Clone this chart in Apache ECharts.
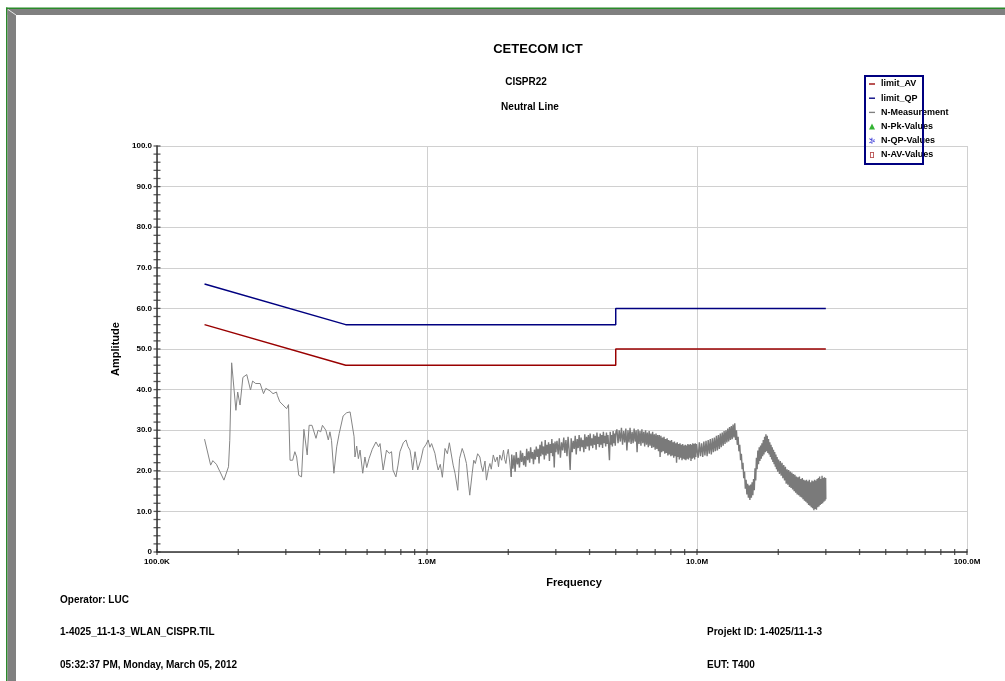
<!DOCTYPE html>
<html>
<head>
<meta charset="utf-8">
<script src="https://cdn.jsdelivr.net/npm/echarts@6/dist/echarts.min.js"></script>
<style>
html,body{margin:0;padding:0;background:#fff;}
#chart{width:1005px;height:681px;}
</style>
</head>
<body>
<div id="chart"></div>
<script>
// ---------- data (frequency in MHz, level in dBµV) ----------
const limitAV = [[0.15,56],[0.5,46],[5,46],[5,50],[30,50]];
const limitQP = [[0.15,66],[0.5,56],[5,56],[5,60],[30,60]];

// N-Measurement, low band (sparse part of the sweep)
const measLow = [
 [0.150,27.8],[0.158,21.4],[0.161,22.5],[0.166,21.6],[0.171,19.8],[0.177,17.7],[0.184,21.0],[0.186,27.5],
 [0.189,46.6],[0.191,46.8],[0.196,34.9],[0.199,39.4],[0.203,36.2],[0.208,43.0],[0.215,43.7],[0.218,43.3],
 [0.222,39.9],[0.226,42.1],[0.232,41.5],[0.241,41.5],[0.248,39.0],[0.253,40.3],[0.262,39.7],[0.269,39.0],
 [0.277,39.4],[0.279,38.6],[0.285,37.0],[0.293,36.2],[0.302,35.3],[0.307,36.3],[0.311,22.6],[0.318,22.6],
 [0.324,24.7],[0.329,23.4],[0.335,18.9],[0.343,18.5],[0.350,30.2],[0.354,30.4],[0.360,23.9],[0.366,31.2],
 [0.375,31.2],[0.388,28.0],[0.395,30.0],[0.404,29.6],[0.410,31.2],[0.422,30.0],[0.431,27.6],[0.437,29.6],
 [0.443,27.5],[0.452,19.4],[0.463,25.9],[0.473,29.2],[0.489,33.5],[0.504,34.3],[0.519,34.5],[0.526,34.2],
 [0.537,28.4],[0.541,23.4],[0.549,26.1],[0.557,23.0],[0.565,25.1],[0.578,19.4],[0.589,23.4],[0.598,20.8],
 [0.610,23.0],[0.627,25.3],[0.647,27.1],[0.662,25.9],[0.670,26.7],[0.688,20.2],[0.708,25.1],[0.724,24.3],
 [0.739,24.7],[0.748,20.2],[0.767,18.5],[0.781,21.4],[0.794,24.7],[0.817,26.9],[0.836,27.6],[0.850,26.0],
 [0.865,25.1],[0.875,23.0],[0.885,20.2],[0.903,24.7],[0.912,22.8],[0.924,20.2],[0.948,22.6],[0.969,25.5],
 [0.990,26.4],[1.01,27.6],[1.025,25.8],[1.04,26.7],[1.07,24.3],[1.085,22.0],[1.10,20.2],[1.12,21.6],
 [1.14,18.4],[1.166,25.5],[1.19,24.2],[1.21,26.9],[1.235,23.4],[1.25,21.4],[1.27,19.4],[1.30,15.2],
 [1.32,23.0],[1.35,25.5],[1.37,24.3],[1.40,21.8],[1.42,17.7],[1.44,14.0],[1.47,19.4],[1.49,22.6],
 [1.51,21.8],[1.54,24.2],[1.57,23.4],[1.59,21.2],[1.61,19.8],[1.64,22.4],[1.66,17.7],[1.69,20.6],
 [1.71,21.8],[1.73,20.4],[1.76,23.9],[1.79,22.2],[1.82,23.4],[1.84,21.0],[1.86,23.9],[1.89,22.6],
 [1.92,25.1],[1.94,22.8],[1.96,21.8],[1.98,24.0],[2.00,25.3],[2.03,21.4],[2.05,18.5]
];

// N-Measurement, 2 - 5 MHz (dense part of the sweep)
const measMid = [
 [2.05,18.5],
 [2.06,24.0],[2.08,20.5],[2.10,23.8],[2.12,19.8],[2.14,24.6],[2.16,21.6],[2.18,23.2],[2.20,20.8],
 [2.22,25.0],[2.24,22.2],[2.26,24.4],[2.28,21.4],[2.30,23.6],[2.32,21.0],[2.34,25.4],[2.36,22.6],
 [2.38,24.8],[2.40,22.0],[2.42,25.8],[2.44,23.0],[2.46,24.6],[2.48,21.6],[2.50,25.2],[2.52,22.8],
 [2.54,26.0],[2.56,23.4],[2.58,25.4],[2.60,21.8],[2.62,26.4],[2.64,23.6],[2.66,27.2],[2.68,24.0],
 [2.70,26.0],[2.72,22.8],[2.74,27.6],[2.76,23.8],[2.78,26.4],[2.80,24.2],[2.82,27.0],[2.84,22.4],
 [2.86,26.6],[2.88,24.4],[2.90,27.8],[2.92,23.6],[2.94,26.8],[2.96,20.8],[2.98,27.2],[3.00,24.6],
 [3.03,27.4],[3.06,24.0],[3.09,28.0],[3.12,23.2],[3.15,27.0],[3.18,25.0],[3.21,28.2],[3.24,24.4],
 [3.27,27.6],[3.30,23.6],[3.33,28.4],[3.36,25.2],[3.39,20.2],[3.42,28.0],[3.45,24.6],[3.48,27.4],
 [3.51,25.4],[3.54,28.6],[3.57,24.0],[3.60,27.8],[3.63,25.6],[3.66,28.8],[3.69,24.8],[3.72,28.2],
 [3.75,25.8],[3.78,27.6],[3.81,24.6],[3.84,29.0],[3.87,25.4],[3.90,28.4],[3.93,26.0],[3.96,28.8],
 [3.99,25.0],[4.02,29.2],[4.05,26.2],[4.08,28.0],[4.11,25.6],[4.14,29.0],[4.17,26.4],[4.20,28.6],
 [4.23,25.2],[4.26,29.4],[4.29,26.6],[4.32,28.4],[4.35,25.8],[4.38,29.2],[4.41,26.4],[4.44,28.8],
 [4.47,25.6],[4.50,29.6],[4.53,26.8],[4.56,28.6],[4.59,26.0],[4.62,29.4],[4.65,26.6],[4.68,28.8],
 [4.71,25.8],[4.74,22.6],[4.77,29.6],[4.80,26.4],[4.83,28.8],[4.86,26.0],[4.89,29.8],[4.92,26.8],
 [4.95,29.2],[4.98,26.2],[5.01,29.6]
];

// N-Measurement, 5 - 10 MHz
const measHigh1 = [
 [5.05,30.2],[5.10,26.8],[5.15,30.0],[5.20,27.2],[5.25,30.6],[5.30,26.4],[5.35,29.8],[5.40,27.0],
 [5.45,30.4],[5.50,25.0],[5.55,30.0],[5.60,27.0],[5.65,30.6],[5.70,26.6],[5.75,29.6],[5.80,26.8],
 [5.85,30.4],[5.90,27.2],[5.95,30.0],[6.00,24.6],[6.05,30.2],[6.10,26.6],[6.15,29.8],[6.20,26.2],
 [6.25,30.2],[6.30,26.8],[6.35,29.6],[6.40,26.0],[6.45,30.0],[6.50,26.4],[6.55,29.4],[6.60,25.8],
 [6.65,29.8],[6.70,26.2],[6.75,29.2],[6.80,25.6],[6.85,29.6],[6.90,25.8],[6.95,29.0],[7.00,25.2],
 [7.05,29.2],[7.10,25.4],[7.15,28.8],[7.20,24.8],[7.25,28.8],[7.30,23.4],[7.35,28.6],[7.40,24.6],
 [7.45,28.2],[7.50,24.8],[7.55,28.4],[7.60,24.2],[7.65,27.8],[7.70,24.4],[7.75,28.0],[7.80,23.8],
 [7.85,27.6],[7.90,24.0],[7.95,27.4],[8.00,23.6],[8.05,27.6],[8.10,23.8],[8.15,27.0],[8.20,23.2],
 [8.25,27.2],[8.30,23.6],[8.35,26.8],[8.40,22.0],[8.45,27.0],[8.50,23.4],[8.55,26.6],[8.60,22.8],
 [8.65,26.8],[8.70,23.2],[8.75,26.4],[8.80,22.6],[8.85,26.6],[8.90,23.0],[8.95,26.2],[9.00,22.8],
 [9.05,26.4],[9.10,22.6],[9.15,26.2],[9.20,23.0],[9.25,26.6],[9.30,22.8],[9.35,26.4],[9.40,23.2],
 [9.45,26.6],[9.50,22.4],[9.55,26.4],[9.60,23.0],[9.65,26.8],[9.70,23.2],[9.75,26.6],[9.80,22.8],
 [9.85,26.8],[9.90,23.4],[9.95,26.6]
];

// N-Measurement, 10 - 30 MHz
const measHigh2 = [
 [10.0,26.8],[10.1,23.2],[10.2,27.0],[10.3,23.6],[10.4,26.8],[10.5,23.4],[10.6,27.2],[10.7,23.8],
 [10.8,27.4],[10.9,23.6],[11.0,27.6],[11.1,24.2],[11.2,27.8],[11.3,24.0],[11.4,28.0],[11.5,24.6],
 [11.6,28.2],[11.7,24.8],[11.8,28.6],[11.9,25.0],[12.0,28.8],[12.1,25.4],[12.2,29.2],[12.3,25.8],
 [12.4,29.4],[12.5,26.2],[12.6,29.8],[12.7,26.6],[12.8,30.0],[12.9,27.0],[13.0,30.4],[13.1,27.2],
 [13.2,30.8],[13.3,27.6],[13.4,31.0],[13.5,27.8],[13.6,31.4],[13.7,28.2],[13.8,31.7],[13.9,27.6],
 [14.0,30.0],[14.1,26.4],[14.2,28.4],[14.3,24.8],[14.4,26.4],[14.5,22.6],[14.6,24.2],[14.7,20.4],
 [14.8,22.0],[14.9,18.2],[15.0,19.8],[15.1,15.6],[15.2,17.8],[15.3,14.2],[15.4,16.8],[15.5,13.4],
 [15.6,16.4],[15.7,12.8],[15.8,16.6],[15.9,13.4],[16.0,17.2],[16.1,14.0],[16.2,18.0],[16.3,15.2],
 [16.4,20.6],[16.5,17.6],[16.6,23.2],[16.7,20.4],[16.8,25.0],[16.9,21.6],[17.0,25.8],[17.1,22.4],
 [17.2,26.2],[17.3,23.0],[17.4,26.8],[17.5,23.6],[17.6,27.6],[17.7,24.0],[17.8,28.4],[17.9,24.6],
 [18.0,29.0],[18.1,24.8],[18.2,28.6],[18.3,24.4],[18.4,27.8],[18.5,24.0],[18.6,27.0],[18.7,23.4],
 [18.8,26.4],[18.9,22.8],[19.0,25.8],[19.1,22.2],[19.2,25.2],[19.3,21.6],[19.4,24.6],[19.5,21.0],
 [19.6,24.0],[19.7,20.4],[19.8,23.4],[19.9,19.8],
 [20.05,22.8],[20.20,19.2],[20.35,22.4],[20.50,18.8],[20.65,22.0],[20.80,18.2],[20.95,21.4],[21.10,17.6],
 [21.25,21.0],[21.40,16.8],[21.55,20.4],[21.70,16.6],[21.85,20.2],[22.00,16.0],[22.15,19.8],[22.30,15.8],
 [22.45,19.6],[22.60,15.4],[22.75,19.2],[22.90,15.0],[23.05,19.0],[23.20,14.6],[23.35,18.6],[23.50,14.2],
 [23.65,18.4],[23.80,14.0],[23.95,18.6],[24.10,13.6],[24.25,18.0],[24.40,13.4],[24.55,18.2],[24.70,13.0],
 [24.85,17.8],[25.00,12.6],[25.15,17.6],[25.30,12.4],[25.45,17.8],[25.60,12.0],[25.75,17.4],[25.90,11.6],
 [26.05,17.8],[26.20,11.4],[26.35,17.2],[26.50,11.0],[26.65,17.6],[26.80,10.8],[26.95,17.4],[27.10,10.3],
 [27.25,17.8],[27.40,10.6],[27.55,17.6],[27.70,10.4],[27.85,18.0],[28.00,11.0],[28.15,18.2],[28.30,11.2],
 [28.45,18.6],[28.60,11.6],[28.75,18.0],[28.90,11.8],[29.05,18.8],[29.20,12.0],[29.35,18.2],[29.50,12.4],
 [29.65,18.4],[29.80,12.6],[29.95,18.2],[30.00,13.0]
];

// tick positions (MHz) and labels
const xTickValues = [0.1,0.2,0.3,0.4,0.5,0.6,0.7,0.8,0.9,1,2,3,4,5,6,7,8,9,10,20,30,40,50,60,70,80,90,100];
const xTickLabels = {'100000':'100.0K','1000000':'1.0M','10000000':'10.0M','100000000':'100.0M'};
const yTickValues = [0,2,4,6,8,10,12,14,16,18,20,22,24,26,28,30,32,34,36,38,40,42,44,46,48,50,
  52,54,56,58,60,62,64,66,68,70,72,74,76,78,80,82,84,86,88,90,92,94,96,98,100];

// ---------- build ----------
const toHz = arr => arr.map(p => [p[0]*1e6, p[1]]);
const measSparse = toHz(measLow);
const measDense = toHz(measMid.concat(measHigh1, measHigh2));
const FONT = '"Liberation Sans", Arial, sans-serif';
const lineIcon = 'path://M0,0h8v1.8h-8z';
const asterisk = 'path://M3.4,0h1.2v8h-1.2z M0.3,1.6l0.6,-1l7,4.4l-0.6,1z M0.3,6.4l0.6,1l7,-4.4l-0.6,-1z';
const rectFrame = 'path://M0,0h5v8h-5zM1,1v6h3v-6z';

const chart = echarts.init(document.getElementById('chart'), null, {renderer:'canvas'});
chart.setOption({
  backgroundColor:'#fff',
  animation:false,
  title:[
    {text:'CETECOM ICT', left:533, top:38, textAlign:'center',
     textStyle:{fontFamily:FONT, fontWeight:'bold', fontSize:13, color:'#000'}},
    {text:'CISPR22', left:521, top:72, textAlign:'center',
     textStyle:{fontFamily:FONT, fontWeight:'bold', fontSize:10, color:'#000'}},
    {text:'Neutral Line', left:525, top:97, textAlign:'center',
     textStyle:{fontFamily:FONT, fontWeight:'bold', fontSize:10, color:'#000'}}
  ],
  legend:{
    data:[
      {name:'limit_AV', icon:lineIcon},{name:'limit_QP', icon:lineIcon},{name:'N-Measurement', icon:lineIcon},
      {name:'N-Pk-Values'},{name:'N-QP-Values'},{name:'N-AV-Values'}
    ],
    orient:'vertical', left:869, top:79.5,
    itemWidth:6, itemHeight:6, itemGap:5.2,
    selectedMode:false,
    textStyle:{fontFamily:FONT, fontWeight:'bold', fontSize:9, color:'#000', lineHeight:9, padding:[0,0,0,1]},
    padding:0
  },
  grid:{left:157, right:38, top:146, bottom:129, containLabel:false},
  xAxis:{
    type:'log', logBase:10, min:1e5, max:1e8,
    name:'Frequency', nameLocation:'middle', nameGap:25,
    nameTextStyle:{fontFamily:FONT, fontWeight:'bold', fontSize:11, color:'#000', padding:[0,0,0,24]},
    axisLine:{lineStyle:{color:'#333', width:1.5}},
    axisTick:{show:false},
    axisLabel:{margin:6, fontFamily:FONT, fontWeight:'bold', fontSize:8, color:'#000',
      formatter:v => xTickLabels[String(Math.round(v))] || ''},
    splitLine:{show:true, lineStyle:{color:'#d0d0d0', width:1}}
  },
  yAxis:{
    type:'value', min:0, max:100, interval:10,
    name:'Amplitude', nameLocation:'middle', nameGap:20, nameRotate:90,
    nameTextStyle:{fontFamily:FONT, fontWeight:'bold', fontSize:11, color:'#000'},
    axisLine:{show:true, lineStyle:{color:'#333', width:1.5}},
    axisTick:{show:false},
    axisLabel:{margin:5, fontFamily:FONT, fontWeight:'bold', fontSize:8, color:'#000',
      formatter:v => v === 0 ? '0' : v.toFixed(1)},
    splitLine:{show:true, lineStyle:{color:'#d0d0d0', width:1}}
  },
  series:[
    {name:'limit_AV', type:'line', data:toHz(limitAV), symbol:'none', color:'#990000',
     lineStyle:{color:'#990000', width:1.5}, z:4},
    {name:'limit_QP', type:'line', data:toHz(limitQP), symbol:'none', color:'#000080',
     lineStyle:{color:'#000080', width:1.5}, z:4},
    {name:'N-Measurement', type:'line', data:measSparse, symbol:'none', color:'#808080',
     lineStyle:{color:'#858585', width:1}, z:3},
    {name:'N-Measurement', type:'line', data:measDense, symbol:'none', color:'#808080',
     lineStyle:{color:'#7a7a7a', width:1.4}, z:3},
    {name:'N-Pk-Values', type:'scatter', data:[], symbol:'triangle', color:'#00a000'},
    {name:'N-QP-Values', type:'scatter', data:[], symbol:asterisk, color:'#0000cc'},
    {name:'N-AV-Values', type:'scatter', data:[], symbol:rectFrame, color:'#990000'},
    {name:'xticks', type:'scatter', silent:true, clip:false, z:6,
     data:xTickValues.map(v => [v*1e6, 0]), symbol:'rect', symbolSize:[1.3,6],
     itemStyle:{color:'#333'}},
    {name:'yticks', type:'scatter', silent:true, clip:false, z:6,
     data:yTickValues.map(v => [1e5, v]), symbol:'rect', symbolSize:[7,1.3],
     itemStyle:{color:'#333'}}
  ],
  graphic:[
    {type:'rect', shape:{x:6, y:7.5, width:999, height:1.5}, style:{fill:'#2a8a2a'}, z:100},
    {type:'rect', shape:{x:6, y:7.5, width:1.5, height:674}, style:{fill:'#2a8a2a'}, z:100},
    {type:'rect', shape:{x:7.5, y:9, width:997.5, height:6}, style:{fill:'#808080'}, z:100},
    {type:'rect', shape:{x:7.5, y:9, width:8.5, height:672}, style:{fill:'#808080'}, z:100},
    {type:'line', shape:{x1:8, y1:9.5, x2:16, y2:15}, style:{stroke:'#e8e8e8', lineWidth:1}, z:101},
    {type:'rect', shape:{x:865, y:76, width:58, height:88}, style:{fill:null, stroke:'#000080', lineWidth:2}, z:100},
    {type:'text', left:60, top:595, style:{text:'Operator: LUC', font:'bold 10px '+FONT, fill:'#000'}},
    {type:'text', left:60, top:627, style:{text:'1-4025_11-1-3_WLAN_CISPR.TIL', font:'bold 10px '+FONT, fill:'#000'}},
    {type:'text', left:60, top:660, style:{text:'05:32:37 PM, Monday, March 05, 2012', font:'bold 10px '+FONT, fill:'#000'}},
    {type:'text', left:707, top:627, style:{text:'Projekt ID: 1-4025/11-1-3', font:'bold 10px '+FONT, fill:'#000'}},
    {type:'text', left:707, top:660, style:{text:'EUT: T400', font:'bold 10px '+FONT, fill:'#000'}}
  ]
});
</script>
</body>
</html>
